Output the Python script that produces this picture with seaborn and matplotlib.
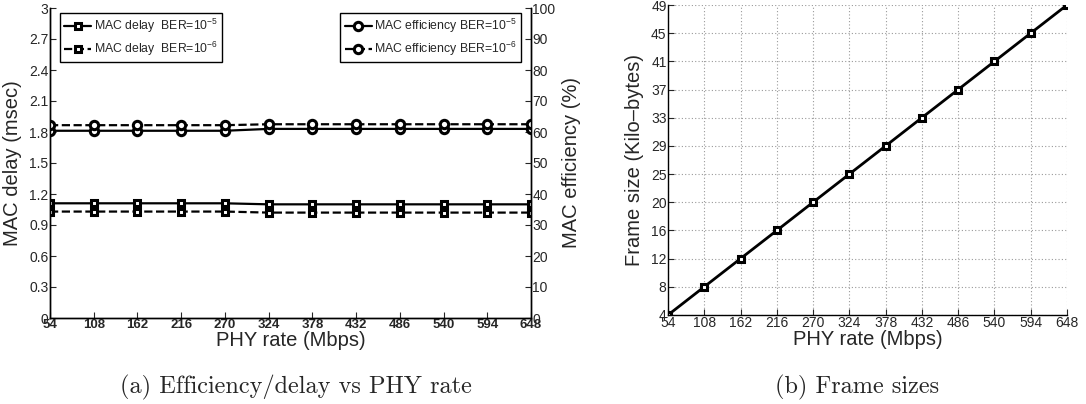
import numpy as np
import pandas as pd
import matplotlib
matplotlib.use("Agg")
import matplotlib.pyplot as plt
import seaborn as sns

# PHY rates (Mbps)
phy_rate = [54, 108, 162, 216, 270, 324, 378, 432, 486, 540, 594, 648]

# MAC delay (msec)
delay_ber5 = [1.11, 1.11, 1.11, 1.11, 1.11, 1.10, 1.10, 1.10, 1.10, 1.10, 1.10, 1.10]
delay_ber6 = [1.03, 1.03, 1.03, 1.03, 1.03, 1.02, 1.02, 1.02, 1.02, 1.02, 1.02, 1.02]

# MAC efficiency (%)
eff_ber5 = [60.4, 60.4, 60.4, 60.4, 60.4, 61.0, 61.0, 61.0, 61.0, 61.0, 61.0, 61.0]
eff_ber6 = [62.2, 62.2, 62.2, 62.2, 62.2, 62.5, 62.5, 62.5, 62.5, 62.5, 62.5, 62.5]

# Frame sizes (Kilo-bytes)
frame_kb = [4.08, 8.17, 12.25, 16.33, 20.42, 24.50, 28.58, 32.67, 36.75, 40.83, 44.92, 49.00]
frame_labels = ["4", "8", "12", "16", "20", "25", "29", "33", "37", "41", "45", "49"]

delay_ticks = [0, 0.3, 0.6, 0.9, 1.2, 1.5, 1.8, 2.1, 2.4, 2.7, 3]
eff_ticks = [0, 10, 20, 30, 40, 50, 60, 70, 80, 90, 100]

sns.set_style("ticks")
plt.rcParams["font.family"] = ["Liberation Sans", "DejaVu Sans"]
plt.rcParams["mathtext.fontset"] = "custom"
plt.rcParams["mathtext.rm"] = "Liberation Sans"
plt.rcParams["mathtext.it"] = "Liberation Sans:italic"
plt.rcParams["xtick.direction"] = "in"
plt.rcParams["ytick.direction"] = "in"
plt.rcParams["axes.edgecolor"] = "black"
plt.rcParams["axes.linewidth"] = 1.0

fig = plt.figure(figsize=(10.86, 4.04), dpi=100)
W, H = 1086, 404

def box(x0, y0, x1, y1):
    return [x0 / W, 1 - y1 / H, (x1 - x0) / W, (y1 - y0) / H]

lw = 1.6
ms = 5
mew = 2.2
lab_fs = 14.5
leg_fs = 8.8

# ---- (a) efficiency / delay ----
ax = fig.add_axes(box(50, 8, 531, 318))
sns.lineplot(x=phy_rate, y=delay_ber5, ax=ax, color="k", lw=lw, marker="s",
             markersize=ms, markerfacecolor="white", markeredgecolor="k",
             markeredgewidth=mew, label=r"MAC delay  BER=10$^{-5}$")
sns.lineplot(x=phy_rate, y=delay_ber6, ax=ax, color="k", lw=lw, linestyle="--",
             marker="s", markersize=ms, markerfacecolor="white",
             markeredgecolor="k", markeredgewidth=mew,
             label=r"MAC delay  BER=10$^{-6}$")
ax.set_xlim(54, 648)
ax.set_ylim(0, 3)
ax.set_xticks(phy_rate)
ax.set_xticklabels([str(v) for v in phy_rate], fontweight="bold", fontsize=9.5)
ax.set_yticks(delay_ticks)
ax.set_yticklabels([f"{v:g}" for v in delay_ticks], fontsize=10)
ax.tick_params(length=4, pad=1)
ax.set_xlabel("PHY rate (Mbps)", fontsize=lab_fs, labelpad=0)
ax.set_ylabel("MAC delay (msec)", fontsize=lab_fs, labelpad=5)
ax.spines["top"].set_visible(False)
leg = ax.legend(loc="upper left", bbox_to_anchor=(0.021, 0.984), borderaxespad=0,
                fontsize=leg_fs, frameon=True, fancybox=False, framealpha=1,
                edgecolor="black", handlelength=2.2, handletextpad=0.2,
                borderpad=0.35, labelspacing=0.35)
leg.get_frame().set_linewidth(1.0)

ax2 = ax.twinx()
sns.lineplot(x=phy_rate, y=eff_ber5, ax=ax2, color="k", lw=lw, marker="o",
             markersize=ms + 1, markerfacecolor="white", markeredgecolor="k",
             markeredgewidth=mew, label=r"MAC efficiency BER=10$^{-5}$")
sns.lineplot(x=phy_rate, y=eff_ber6, ax=ax2, color="k", lw=lw, linestyle="--",
             marker="o", markersize=ms + 1, markerfacecolor="white",
             markeredgecolor="k", markeredgewidth=mew,
             label=r"MAC efficiency BER=10$^{-6}$")
ax2.set_ylim(0, 100)
ax2.set_yticks(eff_ticks)
ax2.set_yticklabels([str(v) for v in eff_ticks], fontsize=10)
ax2.tick_params(length=4, pad=1)
ax2.set_ylabel("MAC efficiency (%)", fontsize=lab_fs, labelpad=5)
ax2.spines["top"].set_visible(False)
leg2 = ax2.legend(loc="upper right", bbox_to_anchor=(0.979, 0.984), borderaxespad=0,
                  fontsize=leg_fs, frameon=True, fancybox=False, framealpha=1,
                  edgecolor="black", handlelength=2.2, handletextpad=0.2,
                  borderpad=0.35, labelspacing=0.35)
leg2.get_frame().set_linewidth(1.0)

# ---- (b) frame sizes ----
bx = fig.add_axes(box(668, 5, 1067, 315))
sns.lineplot(x=phy_rate, y=frame_kb, ax=bx, color="k", lw=2.0, marker="s",
             markersize=ms, markerfacecolor="white", markeredgecolor="k",
             markeredgewidth=mew)
bx.set_xlim(54, 648)
bx.set_ylim(frame_kb[0], frame_kb[-1])
bx.set_xticks(phy_rate)
bx.set_xticklabels([str(v) for v in phy_rate], fontsize=10)
bx.set_yticks(frame_kb)
bx.set_yticklabels(frame_labels, fontsize=10)
bx.tick_params(length=4, pad=1)
bx.grid(True, linestyle=(0, (1, 2)), color="#9a9a9a", linewidth=0.8)
bx.spines["top"].set_visible(False)
bx.spines["right"].set_visible(False)
bx.set_xlabel("PHY rate (Mbps)", fontsize=lab_fs, labelpad=0)
bx.set_ylabel("Frame size (Kilo\u2013bytes)", fontsize=lab_fs, labelpad=5)

# captions
fig.text(296 / W, 1 - 387 / H, "(a) Efficiency/delay vs PHY rate", family="cmr10",
         fontsize=17.5, ha="center", va="center")
fig.text(857 / W, 1 - 387 / H, "(b) Frame sizes", family="cmr10",
         fontsize=17.5, ha="center", va="center")

fig.savefig("out.png", dpi=100)
